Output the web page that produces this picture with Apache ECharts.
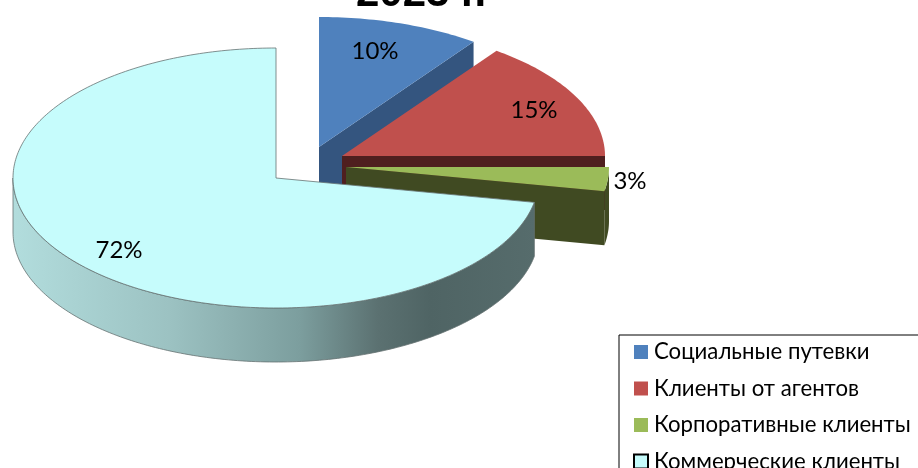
<!DOCTYPE html>
<html>
<head>
<meta charset="utf-8">
<style>
html, body { margin: 0; padding: 0; background: #fff; overflow: hidden; }
#chart { width: 918px; height: 468px; }
</style>
<script src="https://cdn.jsdelivr.net/npm/echarts@6/dist/echarts.min.js"></script>
</head>
<body>
<div id="chart"></div>
<script>
const titleText = '2023 г.';
const categories = ['Социальные путевки', 'Клиенты от агентов', 'Корпоративные клиенты', 'Коммерческие клиенты'];
const shares = [10, 15, 3, 72];
const topColors = ['#4F81BD', '#C0504D', '#9BBB59', '#C6FCFC'];
const wallColors = ['#34557F', '#4F1F1F', '#404A22', '#4F6565'];

// pseudo 3d: each slice has its own pulled out centre on the ellipse plane
const centers = [[319, 147], [342, 156], [346, 167], [276, 178]];
const labelShift = [[56, -96], [192, -46], [284, 14], [-157, 72]];
const RX = 263, RY = 130, DEPTH = 54;
const LABEL_FONT = 'Lato, "Open Sans", sans-serif';

const total = shares.reduce((a, b) => a + b, 0);
let acc = 0;
const ranges = shares.map(v => {
    const from = acc / total * 360;
    acc += v;
    return [from, acc / total * 360];
});

function rimPoint(c, deg, down) {
    const rad = deg * Math.PI / 180;
    return [c[0] + RX * Math.sin(rad), c[1] - RY * Math.cos(rad) + (down || 0)];
}

function arc(c, from, to, down) {
    const pts = [];
    const steps = Math.max(2, Math.ceil(Math.abs(to - from)));
    for (let i = 0; i <= steps; i++) {
        pts.push(rimPoint(c, from + (to - from) * i / steps, down));
    }
    return pts;
}

const rimGradient = new echarts.graphic.LinearGradient(0, 0, 1, 0, [
    { offset: 0, color: '#B2DDDD' },
    { offset: 0.3, color: '#9CC2C2' },
    { offset: 0.55, color: '#7C9E9E' },
    { offset: 0.7, color: '#5B7171' },
    { offset: 0.8, color: '#4F6464' },
    { offset: 1, color: '#566C6C' }
]);

function renderSlice(idx) {
    return function (params, api) {
        const c = centers[idx];
        const [from, to] = ranges[idx];
        const outline = idx === 3 ? { stroke: '#667272', lineWidth: 0.8 } : { stroke: null };
        const children = [];

        // outer wall, only the part turned to the viewer
        const a = Math.max(from, 90), b = Math.min(to, 270);
        if (a < b) {
            const wall = arc(c, a, b, 0).concat(arc(c, b, a, DEPTH));
            children.push({
                type: 'polygon',
                shape: { points: wall },
                style: Object.assign({ fill: idx === 3 ? rimGradient : wallColors[idx] }, outline)
            });
        }
        // cut face at the end of the slice
        if (to < 180) {
            const e = rimPoint(c, to);
            children.push({
                type: 'polygon',
                shape: { points: [c, e, [e[0], e[1] + DEPTH], [c[0], c[1] + DEPTH]] },
                style: { fill: wallColors[idx] }
            });
        }
        // top face
        children.push({
            type: 'polygon',
            shape: { points: [c].concat(arc(c, from, to, 0)) },
            style: Object.assign({ fill: topColors[idx] }, outline)
        });
        children.push({
            type: 'text',
            z2: 10,
            style: {
                text: api.value(0) + '%',
                x: c[0] + labelShift[idx][0],
                y: c[1] + labelShift[idx][1],
                fill: '#000',
                font: '24px ' + LABEL_FONT,
                align: 'center',
                verticalAlign: 'middle'
            }
        });
        return { type: 'group', children: children };
    };
}

const chart = echarts.init(document.getElementById('chart'));
chart.setOption({
    animation: false,
    backgroundColor: '#fff',
    // the title is cut by the top edge in the original picture
    graphic: [{
        type: 'text',
        silent: true,
        style: {
            text: titleText,
            x: 356,
            y: -27,
            fill: '#000',
            font: 'bold 42px "Liberation Sans", Arial, sans-serif'
        }
    }],
    legend: {
        orient: 'vertical',
        left: 619,
        top: 335,
        height: 300,
        padding: [6, 30, 30, 14],
        itemWidth: 14,
        itemHeight: 14,
        itemGap: 14.5,
        borderColor: '#000',
        borderWidth: 1,
        selectedMode: false,
        textStyle: { fontFamily: LABEL_FONT, fontSize: 22.2, color: '#000', padding: [0, 0, 0, 1] },
        data: categories.map((name, i) => ({
            name: name,
            icon: 'rect',
            itemStyle: i === 3
                ? { color: topColors[i], borderColor: '#000', borderWidth: 2 }
                : { color: topColors[i], borderWidth: 0 }
        }))
    },
    series: categories.map((name, i) => ({
        type: 'custom',
        name: name,
        coordinateSystem: 'none',
        z: i + 1,
        silent: true,
        data: [[shares[i]]],
        renderItem: renderSlice(i)
    }))
});
</script>
</body>
</html>
